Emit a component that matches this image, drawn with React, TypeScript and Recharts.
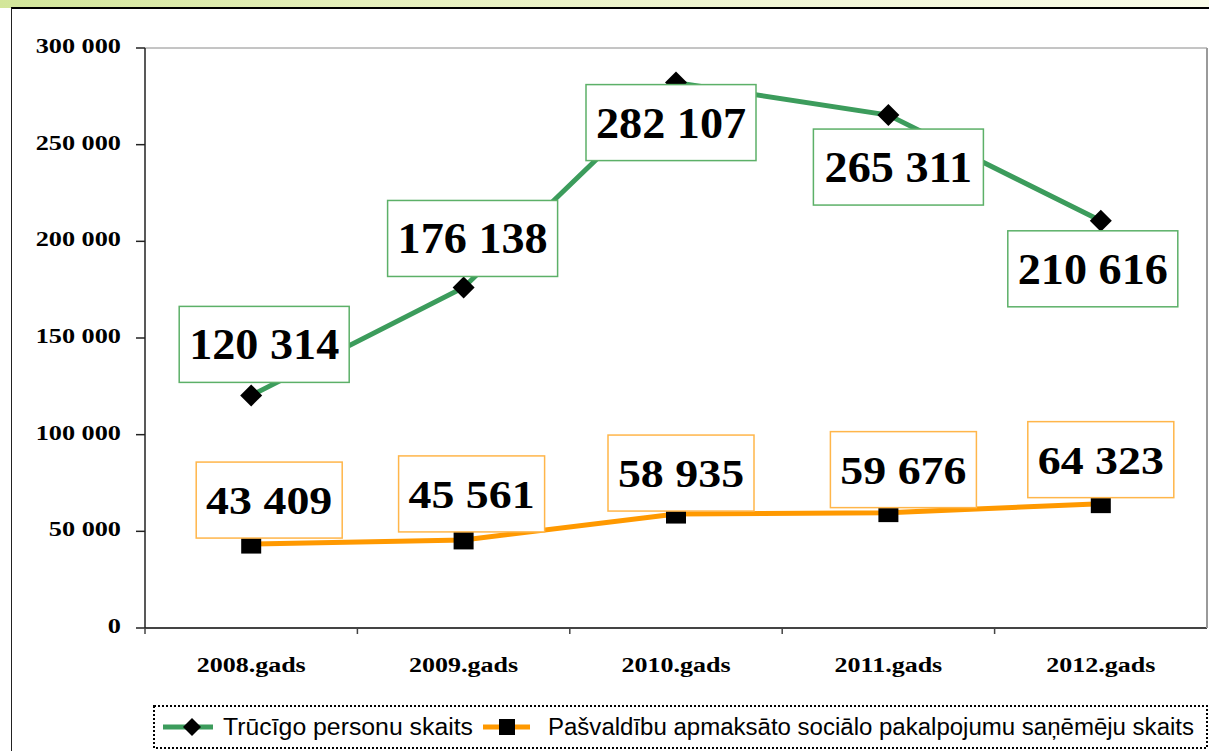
import React from 'react'
import { CartesianGrid, ComposedChart, LabelList, Legend, Line, XAxis, YAxis } from 'recharts'

const years = ['2008.gads', '2009.gads', '2010.gads', '2011.gads', '2012.gads']
const poorPersons = [120314, 176138, 282107, 265311, 210616]
const serviceRecipients = [43409, 45561, 58935, 59676, 64323]
const yTicks = [0, 50000, 100000, 150000, 200000, 250000, 300000]

const poorName = 'Trūcīgo personu skaits'
const recipName = 'Pašvaldību apmaksāto sociālo pakalpojumu saņēmēju skaits'

// where each value box sits relative to its point
const poorLabelShift = [[13, -51], [9, -49], [-5, 40], [10, 52], [-8, 48]]
const recipLabelShift = [[18, -44], [8, -46], [5, -41], [15, -43], [0, -44]]

const data = years.map((year, i) => ({
  year,
  poor: poorPersons[i],
  recip: serviceRecipients[i],
}))

const GREEN = '#3c9c5c'
const ORANGE = '#ff9900'
const SERIF = '"Liberation Serif", "Times New Roman", serif'
const SANS = '"Liberation Sans", Arial, sans-serif'

const fmt = (n: number) => String(n).replace(/\B(?=(\d{3})+(?!\d))/g, ' ')

const YTick = (props: any) => {
  const { x, y, payload } = props
  return (
    <g transform={`translate(${x},${y}) scale(1.25,1)`}>
      <text x={0} y={0} dy={5} textAnchor="end" fontFamily={SERIF} fontWeight="bold" fontSize={21} fill="#000">
        {fmt(payload.value)}
      </text>
    </g>
  )
}

const XTick = (props: any) => {
  const { x, y, payload } = props
  const half = payload.offset ?? 106
  return (
    <g>
      <line x1={x - half} x2={x - half} y1={y} y2={y + 6} stroke="#444" strokeWidth={1.5} />
      <g transform={`translate(${x},${y}) scale(1.3,1)`}>
        <text x={0} y={0} dy={44} textAnchor="middle" fontFamily={SERIF} fontWeight="bold" fontSize={20} fill="#000">
          {payload.value}
        </text>
      </g>
    </g>
  )
}

const Diamond = (props: any) => {
  const { cx, cy, index } = props
  const h = 11
  return (
    <polygon key={`d${index}`} points={`${cx},${cy - h} ${cx + h},${cy} ${cx},${cy + h} ${cx - h},${cy}`} fill="#000" />
  )
}

const Square = (props: any) => {
  const { cx, cy, index } = props
  return <rect key={`s${index}`} x={cx - 10} y={cy - 9.5} width={20} height={19} fill="#000" />
}

const makeBox = (shift: number[][], w: number, stroke: string, fontSize: number, sx: number) => (props: any) => {
  const { x, y, value, index } = props
  const [dx, dy] = shift[index]
  const cx = x + dx
  const cy = y + dy
  return (
    <g>
      <rect x={cx - w / 2} y={cy - 38} width={w} height={76} fill="#fff" stroke={stroke} strokeWidth={1.5} />
      <g transform={`translate(${cx},${cy}) scale(${sx},1)`}>
        <text x={0} y={fontSize * 0.34} textAnchor="middle" fontFamily={SERIF} fontWeight="bold" fontSize={fontSize} fill="#000">
          {fmt(value)}
        </text>
      </g>
    </g>
  )
}

const PoorBox = makeBox(poorLabelShift, 170, '#5cb068', 44, 1.05)
const RecipBox = makeBox(recipLabelShift, 146, '#ffb64a', 41, 1.12)

const LegendBox = () => (
  <svg width={1055} height={44} style={{ display: 'block' }}>
    <rect x={1} y={1} width={1053} height={42} fill="#fff" stroke="#000" strokeWidth={2} strokeDasharray="2 2" />
    <line x1={10} x2={60} y1={22} y2={22} stroke={GREEN} strokeWidth={5} />
    <polygon points="39,13 48,22 39,31 30,22" fill="#000" />
    <text x={70} y={30} fontFamily={SANS} fontSize={23} textLength={250} lengthAdjust="spacingAndGlyphs" fill="#000">
      {poorName}
    </text>
    <line x1={330} x2={377} y1={22} y2={22} stroke={ORANGE} strokeWidth={5} />
    <rect x={346} y={14} width={16} height={16} fill="#000" />
    <text x={395} y={30} fontFamily={SANS} fontSize={23} textLength={646} lengthAdjust="spacingAndGlyphs" fill="#000">
      {recipName}
    </text>
  </svg>
)

export default function App() {
  return (
    <div style={{ position: 'absolute', left: 0, top: 0, width: 1209, height: 751, background: '#fff', overflow: 'hidden' }}>
      <div
        style={{
          position: 'absolute',
          left: 0,
          top: 0,
          width: 1209,
          height: 8,
          background: 'linear-gradient(to right, #d3e69a 0%, #e6f0bc 30%, #f3f7d9 70%, #fafce9 100%)',
        }}
      />
      <div
        style={{
          position: 'absolute',
          left: 11,
          top: 7,
          width: 1209,
          height: 760,
          borderTop: '2px solid #000',
          borderLeft: '1.5px solid #222',
        }}
      />
      <div style={{ position: 'absolute', left: 0, top: 0 }}>
        <ComposedChart width={1209} height={751} data={data} margin={{ top: 48, right: 0, left: 0, bottom: 93 }}>
          <CartesianGrid horizontal vertical={false} stroke="#8a8a8a" strokeWidth={1} />
          <XAxis
            dataKey="year"
            scale="band"
            height={30}
            axisLine={{ stroke: '#444', strokeWidth: 2 }}
            tickLine={false}
            tickSize={0}
            tickMargin={0}
            tick={<XTick />}
            interval={0}
          />
          <YAxis
            yAxisId="left"
            width={145}
            domain={[0, 300000]}
            ticks={yTicks}
            axisLine={{ stroke: '#222', strokeWidth: 1.5 }}
            tickLine={{ stroke: '#222', strokeWidth: 1.5 }}
            tickSize={9}
            tickMargin={15}
            tick={<YTick />}
            interval={0}
          />
          <YAxis
            yAxisId="right"
            orientation="right"
            width={2}
            domain={[0, 300000]}
            ticks={yTicks}
            axisLine={{ stroke: '#9a9a9a', strokeWidth: 2 }}
            tick={false}
            tickLine={false}
          />
          <Legend
            verticalAlign="middle"
            align="center"
            layout="horizontal"
            content={<LegendBox />}
            wrapperStyle={{ position: 'absolute', left: 153, top: 705, width: 1055, height: 44 }}
          />
          <Line
            yAxisId="left"
            dataKey="poor"
            name={poorName}
            stroke={GREEN}
            strokeWidth={5}
            dot={Diamond}
            activeDot={false}
            isAnimationActive={false}
          >
            <LabelList dataKey="poor" content={PoorBox} />
          </Line>
          <Line
            yAxisId="left"
            dataKey="recip"
            name={recipName}
            stroke={ORANGE}
            strokeWidth={5}
            dot={Square}
            activeDot={false}
            isAnimationActive={false}
          >
            <LabelList dataKey="recip" content={RecipBox} />
          </Line>
        </ComposedChart>
      </div>
    </div>
  )
}
